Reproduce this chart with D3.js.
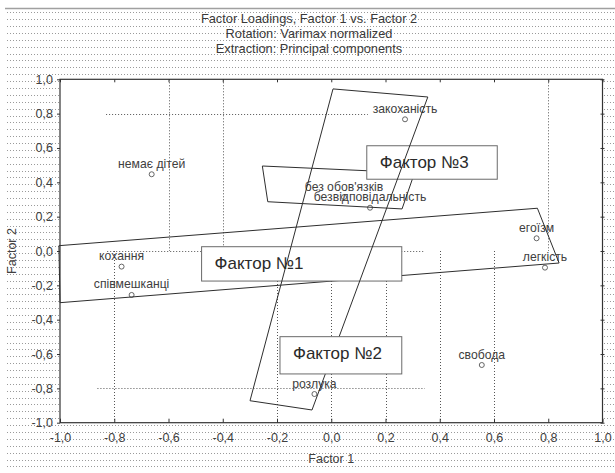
<!DOCTYPE html>
<html>
<head>
<meta charset="utf-8">
<script src="https://cdn.jsdelivr.net/npm/d3@7"></script>
<style>
  html, body { margin: 0; padding: 0; background: #fff; }
  svg { display: block; }
  text { font-family: "Liberation Sans", Arial, sans-serif; }
</style>
</head>
<body>
<svg id="chart" width="615" height="473"></svg>
<script>
// ---------- data ----------
const titleLines = ["Factor Loadings, Factor 1 vs. Factor 2", "Rotation: Varimax normalized", "Extraction: Principal components"];
const xTitle = "Factor 1";
const yTitle = "Factor 2";

const xTicks = [-1, -0.8, -0.6, -0.4, -0.2, 0, 0.2, 0.4, 0.6, 0.8, 1];
const xTickLabels = ["-1,0", "-0,8", "-0,6", "-0,4", "-0,2", "0,0", "0,2", "0,4", "0,6", "0,8", "1,0"];
const yTicks = [-1, -0.8, -0.6, -0.4, -0.2, 0, 0.2, 0.4, 0.6, 0.8, 1];
const yTickLabels = ["-1,0", "-0,8", "-0,6", "-0,4", "-0,2", "0,0", "0,2", "0,4", "0,6", "0,8", "1,0"];

const variables = ["немає дітей", "закоханість", "без обов'язків", "безвідповідальність", "егоїзм", "легкість", "свобода", "розлука", "кохання", "співмешканці"];
const factor1 = [-0.662, 0.272, 0.047, 0.143, 0.757, 0.788, 0.555, -0.062, -0.773, -0.736];
const factor2 = [0.447, 0.767, 0.314, 0.252, 0.074, -0.097, -0.664, -0.833, -0.091, -0.256];

// dotted grid segments (data units)
const vGridX = [-0.6, -0.4, 0.8, -0.8, -0.2, 0, 0.2, 0.4, 0.6];
const vGridFrom = [0, 0, 0, -1, -1, -1, -1, -1, -1];
const vGridTo = [1, 1, 1, 0, 0, 0, 0, 0, 0];
const hGridY = [0.8, 0, -0.8];
const hGridFrom = [-0.83, -0.826, -0.862];
const hGridTo = [0.135, 0.345, 0.345];

// hand-drawn factor outlines (data units)
const factor1Shape = [[-1.004, 0.031], [0.760, 0.249], [0.840, -0.070], [-1.0, -0.301]];
const factor2Shape = [[0.0065, 0.944], [0.356, 0.897], [-0.071, -0.926], [-0.2995, -0.872]];
const factor3Shape = [[-0.254, 0.495], [0.307, 0.455], [0.261, 0.245], [-0.234, 0.287]];

// annotation boxes (data units)
const boxLabels = ["Фактор №1", "Фактор №3", "Фактор №2"];
const boxX0 = [-0.478, 0.131, -0.189];
const boxX1 = [0.260, 0.612, 0.260];
const boxYTop = [0.025, 0.613, -0.499];
const boxYBottom = [-0.175, 0.418, -0.716];

// ---------- drawing ----------
const W = 615, H = 473;
const pL = 60, pR = 602.5, pT = 79.3, pB = 422.7;
const svg = d3.select("#chart");
const x = d3.scaleLinear().domain([-1, 1]).range([pL, pR]);
const y = d3.scaleLinear().domain([-1, 1]).range([pB, pT]);

svg.append("rect").attr("width", W).attr("height", H).attr("fill", "#fff");

// top gray rule
svg.append("line").attr("x1", 5).attr("x2", W).attr("y1", 8.5).attr("y2", 8.5)
  .attr("stroke", "#a0a0a0").attr("stroke-width", 1.5);

// background dotted rows
const rows = d3.range(12.3, H, 6.88);
svg.append("g").selectAll("line").data(rows).join("line")
  .attr("x1", 7).attr("x2", W).attr("y1", d => Math.round(d) + 0.5).attr("y2", d => Math.round(d) + 0.5)
  .attr("stroke", "#9a9a9a").attr("stroke-width", 1).attr("stroke-dasharray", "1,2");

// plot area
svg.append("rect").attr("x", pL).attr("y", pT).attr("width", pR - pL).attr("height", pB - pT)
  .attr("fill", "#fff");

// titles
svg.append("g").selectAll("text").data(titleLines).join("text")
  .attr("x", 309).attr("y", (d, i) => 23 + i * 15)
  .attr("text-anchor", "middle").attr("font-size", "12.8px").attr("fill", "#3a3a3a")
  .text(d => d);

// grid segments
const gGrid = svg.append("g").attr("stroke", "#555").attr("stroke-width", 1).attr("stroke-dasharray", "1,2");
gGrid.selectAll("line.v").data(vGridX).join("line").attr("class", "v")
  .attr("x1", d => Math.round(x(d)) + 0.5).attr("x2", d => Math.round(x(d)) + 0.5)
  .attr("y1", (d, i) => y(vGridTo[i])).attr("y2", (d, i) => y(vGridFrom[i]));
gGrid.selectAll("line.h").data(hGridY).join("line").attr("class", "h")
  .attr("y1", d => Math.round(y(d)) + 0.5).attr("y2", d => Math.round(y(d)) + 0.5)
  .attr("x1", (d, i) => x(hGridFrom[i])).attr("x2", (d, i) => x(hGridTo[i]));

const shapeLine = d3.line().x(d => x(d[0])).y(d => y(d[1])).curve(d3.curveLinearClosed);
function drawShape(s) {
  svg.append("path").attr("d", shapeLine(s)).attr("fill", "none")
    .attr("stroke", "#2e2e2e").attr("stroke-width", 1);
}
function drawBox(i) {
  const g = svg.append("g");
  g.append("rect")
    .attr("x", x(boxX0[i])).attr("y", y(boxYTop[i]))
    .attr("width", x(boxX1[i]) - x(boxX0[i])).attr("height", y(boxYBottom[i]) - y(boxYTop[i]))
    .attr("fill", "#fff").attr("stroke", "#6a6a6a").attr("stroke-width", 1);
  g.append("text")
    .attr("x", x(boxX0[i]) + 13).attr("y", y(boxYTop[i]) + 22)
    .attr("font-family", "Roboto, 'Noto Sans', sans-serif")
    .attr("font-weight", 300)
    .attr("font-size", "17px").attr("fill", "#2a2a2a")
    .text(boxLabels[i]);
}

// points
const pts = variables.map((v, i) => ({ name: v, f1: factor1[i], f2: factor2[i] }));
svg.append("g").selectAll("circle").data(pts).join("circle")
  .attr("cx", d => x(d.f1)).attr("cy", d => y(d.f2)).attr("r", 2.5)
  .attr("fill", "#fff").attr("stroke", "#555").attr("stroke-width", 0.9);
svg.append("g").selectAll("text").data(pts).join("text")
  .attr("x", d => x(d.f1)).attr("y", d => y(d.f2) - 6.5)
  .attr("text-anchor", "middle").attr("font-size", "12.2px").attr("fill", "#404040")
  .text(d => d.name);

drawShape(factor1Shape);
drawShape(factor3Shape);
drawBox(0);
drawBox(1);
drawShape(factor2Shape);
drawBox(2);

// axes
const fmtX = (d, i) => xTickLabels[i];
const fmtY = (d, i) => yTickLabels[i];
const axB = svg.append("g").attr("transform", `translate(0,${pB})`)
  .call(d3.axisBottom(x).tickValues(xTicks).tickFormat(fmtX).tickSizeInner(-4).tickSizeOuter(0).tickPadding(10));
const axL = svg.append("g").attr("transform", `translate(${pL},0)`)
  .call(d3.axisLeft(y).tickValues(yTicks).tickFormat(fmtY).tickSizeInner(3).tickSizeOuter(0).tickPadding(4));
const axT = svg.append("g").attr("transform", `translate(0,${pT})`)
  .call(d3.axisTop(x).tickValues(xTicks).tickFormat("").tickSizeInner(-3).tickSizeOuter(0));
const axR = svg.append("g").attr("transform", `translate(${pR},0)`)
  .call(d3.axisRight(y).tickValues(yTicks).tickFormat("").tickSizeInner(2).tickSizeOuter(0));
axR.selectAll(".tick line").attr("x1", -2).attr("x2", 2);
[axB, axL, axT, axR].forEach(a => {
  a.select(".domain").remove();
  a.selectAll(".tick line").attr("stroke", "#333");
  a.selectAll("text").attr("font-size", "12.5px").attr("fill", "#404040")
    .attr("font-family", "'Liberation Sans', Arial, sans-serif");
});

// plot border
svg.append("rect").attr("x", pL).attr("y", pT).attr("width", pR - pL).attr("height", pB - pT)
  .attr("fill", "none").attr("stroke", "#333").attr("stroke-width", 1.2);

// axis titles
svg.append("text").attr("x", (pL + pR) / 2).attr("y", 463)
  .attr("text-anchor", "middle").attr("font-size", "12.5px").attr("fill", "#404040").text(xTitle);
svg.append("text").attr("transform", `translate(16,${y(0)}) rotate(-90)`)
  .attr("text-anchor", "middle").attr("font-size", "12.5px").attr("fill", "#404040").text(yTitle);
</script>
</body>
</html>
